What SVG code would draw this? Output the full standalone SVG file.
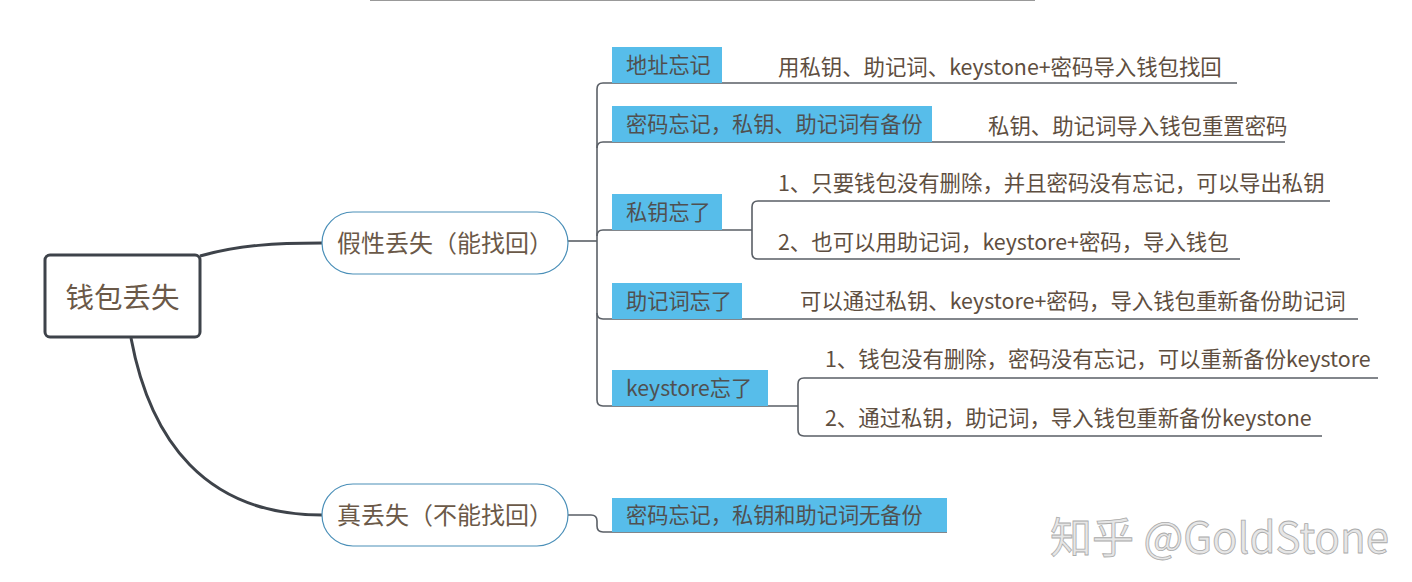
<svg xmlns="http://www.w3.org/2000/svg" width="1412" height="582" viewBox="0 0 1412 582">
<style>
text{font-family:"Noto Sans CJK SC","Microsoft YaHei","Noto Sans",sans-serif}
.lbl{font-size:21.2px;fill:#505050}
.desc{font-size:21.4px;fill:#5e4e40}
.pilltxt{font-size:24px;fill:#6b5948;text-anchor:middle}
.box{fill:#57bdea}
.pill{fill:#fff;stroke:#4a8fb8;stroke-width:1.2}
.ln{fill:none;stroke:#5a5f66;stroke-width:1.6}
.main{fill:none;stroke:#3e434a;stroke-width:3}
</style>
<rect width="1412" height="582" fill="#fff"/>
<line x1="370" y1="0.5" x2="1035" y2="0.5" stroke="#999" stroke-width="1"/>
<g id="connectors">
<path class="main" d="M200,256 C240,245 275,243 322,243"/>
<path class="main" d="M131,338 C150,440 205,515 322,515"/>
<path class="ln" d="M568,241 H597"/>
<path class="ln" d="M597,89 V400"/>
<path class="ln" d="M597,89 Q597,83 603,83 H1237"/>
<path class="ln" d="M597,148 Q597,142 603,142 H1285"/>
<path class="ln" d="M597,236 Q597,230 603,230 H752"/>
<path class="ln" d="M597,313 Q597,319 603,319 H1358"/>
<path class="ln" d="M597,400 Q597,406 603,406 H798"/>
<path class="ln" d="M1330,201 H758 Q752,201 752,207 V253 Q752,259 758,259 H1240"/>
<path class="ln" d="M1378,378 H804 Q798,378 798,384 V430 Q798,436 804,436 H1322"/>
<path class="ln" d="M568,515 H591 Q597,515 597,521 V526 Q597,532 603,532 H947"/>
</g>
<g id="root">
<rect x="45" y="255" width="155" height="82" rx="5" fill="#fff" stroke="#3e434a" stroke-width="3"/>
<text x="122.5" y="308" font-size="28.5" fill="#6b5948" text-anchor="middle">钱包丢失</text>
</g>
<g id="fake-loss">
<rect class="pill" x="322" y="212" width="246" height="62" rx="31"/>
<text class="pilltxt" x="445" y="252">假性丢失（能找回）</text>
</g>
<g id="real-loss">
<rect class="pill" x="322" y="484" width="246" height="62" rx="31"/>
<text class="pilltxt" x="445" y="524">真丢失（不能找回）</text>
</g>
<g id="addr">
<rect class="box" x="612" y="47" width="110" height="36"/>
<text class="lbl" x="626" y="73">地址忘记</text>
<text class="desc" x="778" y="75">用私钥、助记词、keystone+密码导入钱包找回</text>
</g>
<g id="pwd">
<rect class="box" x="612" y="106" width="320" height="36"/>
<text class="lbl" x="626" y="132">密码忘记，私钥、助记词有备份</text>
<text class="desc" x="988" y="134">私钥、助记词导入钱包重置密码</text>
</g>
<g id="privkey">
<rect class="box" x="612" y="194" width="110" height="36"/>
<text class="lbl" x="626" y="220">私钥忘了</text>
<text class="desc" x="778" y="191">1、只要钱包没有删除，并且密码没有忘记，可以导出私钥</text>
<text class="desc" x="778" y="250">2、也可以用助记词，keystore+密码，导入钱包</text>
</g>
<g id="mnemonic">
<rect class="box" x="612" y="283" width="130" height="36"/>
<text class="lbl" x="626" y="309">助记词忘了</text>
<text class="desc" x="800" y="309">可以通过私钥、keystore+密码，导入钱包重新备份助记词</text>
</g>
<g id="keystore">
<rect class="box" x="612" y="370" width="156" height="36"/>
<text class="lbl" x="626" y="396">keystore忘了</text>
<text class="desc" x="825" y="367">1、钱包没有删除，密码没有忘记，可以重新备份keystore</text>
<text class="desc" x="825" y="426">2、通过私钥，助记词，导入钱包重新备份keystone</text>
</g>
<g id="nobackup">
<rect class="box" x="612" y="498" width="335" height="34"/>
<text class="lbl" x="626" y="523">密码忘记，私钥和助记词无备份</text>
</g>
<text x="1050" y="553" font-size="42" fill="#e6e6e6" stroke="#ababab" stroke-width="0.8">知乎 @GoldStone</text>
</svg>
